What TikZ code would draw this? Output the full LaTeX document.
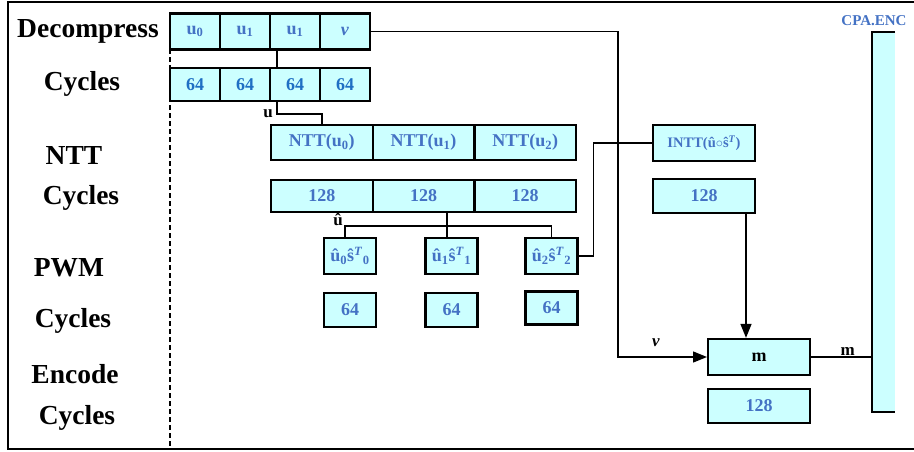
\documentclass[tikz,border=0pt]{standalone}
\usepackage{fontspec}
\setmainfont{Liberation Serif}
\usepackage{tikz}
\usetikzlibrary{calc,arrows.meta,positioning}
\definecolor{cellbg}{HTML}{CCFFFF}
\definecolor{txtblue}{HTML}{4472C4}
\definecolor{numblue}{HTML}{1F6FC4}
\tikzset{
  cell/.style={draw=black,line width=2.3pt,fill=cellbg,inner sep=0pt,text=txtblue,
    font=\fontsize{18}{20}\selectfont\bfseries},
  wide/.style={cell,minimum width=101.7pt,minimum height=35pt},
  small/.style={cell,minimum width=50pt,minimum height=35pt},
  tiny/.style={cell,minimum width=52pt,minimum height=35pt},
  rowlab/.style={font=\fontsize{27.5}{30}\selectfont\bfseries},
  sig/.style={font=\fontsize{17}{19}\selectfont\bfseries,inner sep=1pt},
  wire/.style={line width=1.4pt},
  ar/.style={wire,-{Triangle[length=14pt,width=11pt]}}
}
\begin{document}
\begin{tikzpicture}[x=1pt,y=-1pt]
\useasboundingbox (0,0) rectangle (914,451);
\draw[line width=2pt] (914,2)--(8,2)--(8,449)--(914,449);
\draw[line width=1.1pt,dash pattern=on 5pt off 3pt] (170,49)--(170,449);
% row labels
\node[rowlab] at (88,31) {Decompress};
\node[rowlab] at (82,84) {Cycles};
\node[rowlab] at (74,155) {NTT};
\node[rowlab] at (81,198) {Cycles};
\node[rowlab] at (69,268) {PWM};
\node[rowlab] at (73,321) {Cycles};
\node[rowlab] at (75,374) {Encode};
\node[rowlab] at (77,418) {Cycles};
% decompress
\node[small,minimum height=36pt] (d0) at (195,31.5) {u\textsubscript{0}};
\node[small,minimum height=36pt] (d1) at (245,31.5) {u\textsubscript{1}};
\node[small,minimum height=36pt] (d2) at (295,31.5) {u\textsubscript{1}};
\node[small,minimum height=36pt] (d3) at (345,31.5) {\textit{v}};
\node[small,minimum height=33pt,text=numblue] (c0) at (195,84.5) {64};
\node[small,minimum height=33pt,text=numblue] (c1) at (245,84.5) {64};
\node[small,minimum height=33pt,text=numblue] (c2) at (295,84.5) {64};
\node[small,minimum height=33pt,text=numblue] (c3) at (345,84.5) {64};
% ntt
\node[wide] (n0) at (321.8,142.5) {NTT(u\textsubscript{0})};
\node[wide] (n1) at (423.5,142.5) {NTT(u\textsubscript{1})};
\node[wide] (n2) at (525.2,142.5) {NTT(u\textsubscript{2})};
\node[wide,minimum height=32pt] (t0) at (321.8,196) {128};
\node[wide,minimum height=32pt] (t1) at (423.5,196) {128};
\node[wide,minimum height=32pt] (t2) at (525.2,196) {128};
% pwm
\node[tiny,minimum height=36pt] (p0) at (350,256) {\^{u}\textsubscript{0}\^{s}\textsuperscript{\textit{T}}\textsubscript{0}};
\node[tiny,minimum height=36pt] (p1) at (451.5,256) {\^{u}\textsubscript{1}\^{s}\textsuperscript{\textit{T}}\textsubscript{1}};
\node[tiny,minimum height=36pt] (p2) at (551.5,256) {\^{u}\textsubscript{2}\^{s}\textsuperscript{\textit{T}}\textsubscript{2}};
\node[tiny,minimum height=34pt] (q0) at (350,310) {64};
\node[tiny,minimum height=34pt] (q1) at (451.5,310) {64};
\node[tiny,minimum height=33pt] (q2) at (551.5,308) {64};
% intt and encode
\node[wide,minimum height=36pt,font=\fontsize{14.5}{16}\selectfont\bfseries] (it) at (704,143) {INTT(\^{u}$\circ$\^{s}\textsuperscript{\textit{T}})};
\node[wide,minimum height=34pt] (ic) at (704,196) {128};
\node[wide,minimum height=36pt,text=black] (mm) at (759,357) {m};
\node[wide,minimum height=34pt] (mc) at (759,406) {128};
% cpa.enc
\node[fill=cellbg,minimum width=23pt,minimum height=380pt,inner sep=0pt] (cpa) at (883.5,222) {};
\draw[line width=2.3pt] (cpa.north east)--(cpa.north west)--(cpa.south west)--(cpa.south east);
\node[font=\fontsize{15}{17}\selectfont\bfseries,text=txtblue] at (874,21) {CPA.ENC};
% wires
\draw[wire] ([xshift=-18pt]d2.south)--([xshift=-18pt]c2.north);
\draw[wire] ([xshift=-18pt]c2.south)--++(0,12) coordinate (ubend) -| (n0.north);
\node[sig,left] at ([xshift=-3pt]ubend) {u};
\draw[wire] ([xshift=23.5pt]t1.south)--([xshift=-4.5pt]p1.north);
\draw[wire] ([xshift=-5pt]p0.north)--++(0,-11) coordinate (uhbend) -| (p2.north);
\node[sig,above left] at ([xshift=-1pt,yshift=-1pt]uhbend) {\^{u}};
\draw[wire] (p2.east)--++(15,0) |- (it.west);
\draw[ar] (d3.east)--++(247,0) coordinate (vbend) |- (mm.west);
\node[sig,font=\fontsize{17}{19}\selectfont\bfseries\itshape] at (656,343) {v};
\draw[ar] ([xshift=42pt]ic.south)--([xshift=42pt]ic.south |- mm.north);
\draw[wire] (mm.east)--(mm.east -| cpa.west);
\node[sig,above] at ([xshift=-24pt]mm.east -| cpa.west) {m};
\end{tikzpicture}
\end{document}
